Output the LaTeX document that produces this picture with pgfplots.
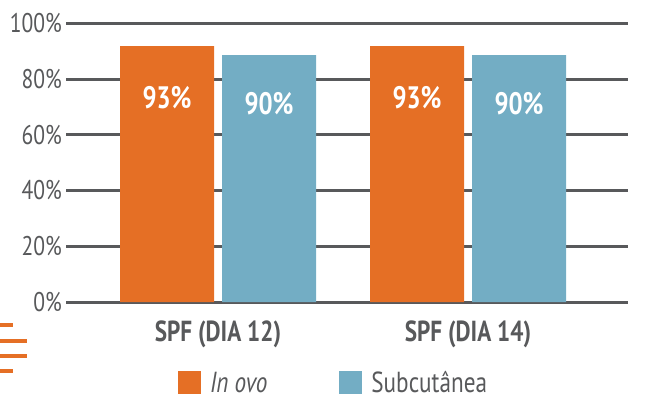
\documentclass[border=0pt]{standalone}
\usepackage{fontspec}
\setmainfont{PT Sans}[FakeStretch=0.8]
\usepackage{pgfplots}
\pgfplotsset{compat=1.18}
\definecolor{orng}{HTML}{E56F25}
\definecolor{blu}{HTML}{73ADC4}
\definecolor{gry}{HTML}{58595B}
\begin{document}
\begin{tikzpicture}
\useasboundingbox (0bp,0bp) rectangle (650bp,-403bp);
\begin{axis}[
  at={(66bp,-302bp)}, anchor=south west,
  scale only axis, width=562bp, height=278.75bp,
  xmin=-0.608, xmax=1.64, ymin=0, ymax=100,
  ybar=8bp, bar width=0.376,
  axis line style={draw=none},
  tick style={draw=none},
  major tick length=0pt,
  ytick={0,20,40,60,80,100},
  ymajorgrids,
  grid style={gry, line width=3bp},
  /pgf/number format/assume math mode=true,
  yticklabel={\pgfmathprintnumber{\tick}\%},
  yticklabel style={anchor=east, inner sep=0pt, xshift=-4bp, text=gry, font=\fontsize{27bp}{30bp}\selectfont},
  xtick={0,1},
  xticklabels={SPF (DIA 12), SPF (DIA 14)},
  xticklabel style={anchor=base, inner sep=0pt, yshift=-39bp, text=gry, font=\fontsize{29bp}{30bp}\selectfont\bfseries},
  legend style={at={(0.199,-0.29)}, anchor=west, draw=none, fill=none, inner sep=0pt,
    font=\fontsize{29bp}{30bp}\selectfont, text=gry,
    nodes={inner sep=0pt},
    /tikz/every odd column/.append style={column sep=9bp},
    /tikz/every even column/.append style={column sep=72bp}},
  legend columns=2,
  legend cell align=left,
]
\addplot[fill=orng, draw=none,
  legend image code/.code={\fill[orng] (0bp,-11.5bp) rectangle (23bp,11.5bp);},
  nodes near coords={93\%},
  every node near coord/.append style={white, anchor=center, yshift=-52bp, font=\fontsize{31bp}{32bp}\selectfont\bfseries}]
  coordinates {(0,91.8) (1,91.8)};
\addlegendentry{\textit{In ovo}}
\addplot[fill=blu, draw=none,
  legend image code/.code={\fill[blu] (0bp,-11.5bp) rectangle (23bp,11.5bp);},
  nodes near coords={90\%},
  every node near coord/.append style={white, anchor=center, yshift=-49bp, font=\fontsize{31bp}{32bp}\selectfont\bfseries}]
  coordinates {(0,88.6) (1,88.6)};
\addlegendentry{Subcutânea}
\end{axis}
\draw[orng, line width=4bp] (0bp,-325bp) -- (13bp,-325bp);
\draw[orng, line width=4bp] (0bp,-341bp) -- (27bp,-341bp);
\draw[orng, line width=4bp] (0bp,-356bp) -- (27bp,-356bp);
\draw[orng, line width=4bp] (0bp,-371bp) -- (13bp,-371bp);
\end{tikzpicture}
\end{document}
